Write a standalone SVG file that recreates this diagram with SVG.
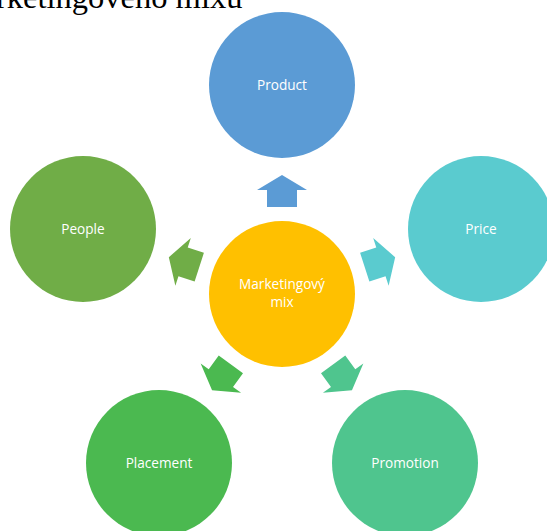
<svg xmlns="http://www.w3.org/2000/svg" width="547" height="531" viewBox="0 0 547 531">
  <style>
    .title { font-family: "Liberation Serif", "Times New Roman", serif; font-size: 32.5px; fill: #000; }
    .lbl { font-family: "Open Sans", "Noto Sans", sans-serif; font-size: 13.6px; fill: #fff; text-anchor: middle; }
  </style>
  <defs>
    <!-- block arrow pointing up, centred on its own origin -->
    <path id="arrow" d="M0,-16 L25,-1 L15,-1 L15,16 L-15,16 L-15,-1 L-25,-1 Z"/>
  </defs>
  <rect width="547" height="531" fill="#fff"/>
  <text class="title" x="-4" y="8">rketingového mixu</text>

  <g id="connectors">
    <use href="#arrow" fill="#5B9BD5" transform="translate(282,294) rotate(0) translate(0,-103)"/>
    <use href="#arrow" fill="#5ACBCF" transform="translate(282,294) rotate(72) translate(0,-103)"/>
    <use href="#arrow" fill="#4FC58E" transform="translate(282,294) rotate(144) translate(0,-103)"/>
    <use href="#arrow" fill="#4BB950" transform="translate(282,294) rotate(216) translate(0,-103)"/>
    <use href="#arrow" fill="#70AD47" transform="translate(282,294) rotate(288) translate(0,-103)"/>
  </g>

  <g id="center">
    <circle cx="282" cy="294" r="73" fill="#FFC000"/>
    <text class="lbl" x="282" y="289">Marketingový</text>
    <text class="lbl" x="282" y="307">mix</text>
  </g>
  <g id="product">
    <circle cx="282" cy="85" r="73" fill="#5B9BD5"/>
    <text class="lbl" x="282" y="90">Product</text>
  </g>
  <g id="price">
    <circle cx="481" cy="229" r="73" fill="#5ACBCF"/>
    <text class="lbl" x="481" y="234">Price</text>
  </g>
  <g id="promotion">
    <circle cx="405" cy="463" r="73" fill="#4FC58E"/>
    <text class="lbl" x="405" y="468">Promotion</text>
  </g>
  <g id="placement">
    <circle cx="159" cy="463" r="73" fill="#4BB950"/>
    <text class="lbl" x="159" y="468">Placement</text>
  </g>
  <g id="people">
    <circle cx="83" cy="229" r="73" fill="#70AD47"/>
    <text class="lbl" x="83" y="234">People</text>
  </g>
</svg>
